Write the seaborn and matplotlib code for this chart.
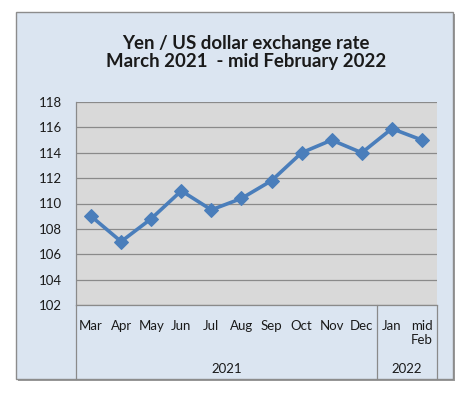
import matplotlib
matplotlib.use("Agg")
import matplotlib.pyplot as plt
import matplotlib.transforms as mtransforms
from matplotlib.patches import Rectangle
import seaborn as sns
import pandas as pd

months = ["Mar", "Apr", "May", "Jun", "Jul", "Aug", "Sep", "Oct", "Nov", "Dec", "Jan", "mid\nFeb"]
rates = [109.0, 107.0, 108.8, 111.0, 109.5, 110.4, 111.8, 114.0, 115.0, 114.0, 115.9, 115.0]
years = ["2021", "2022"]
year_counts = [10, 2]
y_ticks = [102, 104, 106, 108, 110, 112, 114, 116, 118]

df = pd.DataFrame({"pos": list(range(len(months))), "rate": rates})

sns.set_theme(style="white")
plt.rcParams["font.family"] = ["Lato", "DejaVu Sans"]

W, H = 472, 393
fig = plt.figure(figsize=(W / 100, H / 100), dpi=100)
fig.patch.set_facecolor("white")

# chart area box with shadow
x0, x1, y0, y1 = 16, 453, 12, 379
shadow = Rectangle(((x0 + 2) / W, 1 - (y1 + 2) / H), (x1 - x0) / W, (y1 - y0) / H,
                   transform=fig.transFigure, facecolor="#9a9a9a", edgecolor="none", zorder=-2)
box = Rectangle((x0 / W, 1 - y1 / H), (x1 - x0) / W, (y1 - y0) / H,
                transform=fig.transFigure, facecolor="#DBE5F1", edgecolor="#8c8c8c",
                linewidth=1.0, zorder=-1)
fig.patches.extend([shadow, box])

L, R, T, B = 76, 437, 102, 305
ax = fig.add_axes([L / W, 1 - B / H, (R - L) / W, (B - T) / H])
ax.set_facecolor("#D9D9D9")

sns.lineplot(data=df, x="pos", y="rate", ax=ax, color="#4A7EBB", linewidth=2.6,
             marker="D", markersize=7, markeredgecolor="#4A7EBB", zorder=5)

ax.set_xlim(-0.5, len(months) - 0.5)
ax.set_ylim(y_ticks[0], y_ticks[-1])
ax.set_yticks(y_ticks)
ax.set_yticklabels([str(v) for v in y_ticks])
ax.yaxis.grid(True, color="#8a8a8a", linewidth=0.9)
ax.set_axisbelow(True)
ax.set_xticks(range(len(months)))
ax.set_xticklabels(months, fontsize=9.5, color="#1a1a1a", va="top", multialignment="right")
ax.tick_params(axis="both", length=0, labelsize=9.5, colors="#1a1a1a")
ax.tick_params(axis="x", pad=11)
ax.tick_params(axis="y", pad=10)
ax.set_xlabel("")
ax.set_ylabel("")
for s in ["top", "right"]:
    ax.spines[s].set_visible(False)
ax.spines["left"].set_color("#8a8a8a")
ax.spines["bottom"].set_color("#8a8a8a")
ax.spines["left"].set_linewidth(0.9)
ax.spines["bottom"].set_linewidth(0.9)

# category group separators and year labels
trans = mtransforms.blended_transform_factory(ax.transData, ax.transAxes)
y_low = -(y1 - B) / (B - T)
bounds = [-0.5]
for c in year_counts:
    bounds.append(bounds[-1] + c)
for b in bounds:
    ax.plot([b, b], [0, y_low], transform=trans, color="#8a8a8a", linewidth=0.9, clip_on=False)
for i, yr in enumerate(years):
    ax.text((bounds[i] + bounds[i + 1]) / 2, -(369 - B) / (B - T), yr, transform=trans,
            ha="center", va="center", fontsize=9.5, color="#1a1a1a")

fig.text(246 / W, 1 - 43 / H, "Yen / US dollar exchange rate", ha="center", va="center",
         fontsize=13.4, fontweight="bold", color="#1a1a1a")
fig.text(246 / W, 1 - 62 / H, "March 2021  - mid February 2022", ha="center", va="center",
         fontsize=13.4, fontweight="bold", color="#1a1a1a")

fig.savefig("out.png", dpi=100)
